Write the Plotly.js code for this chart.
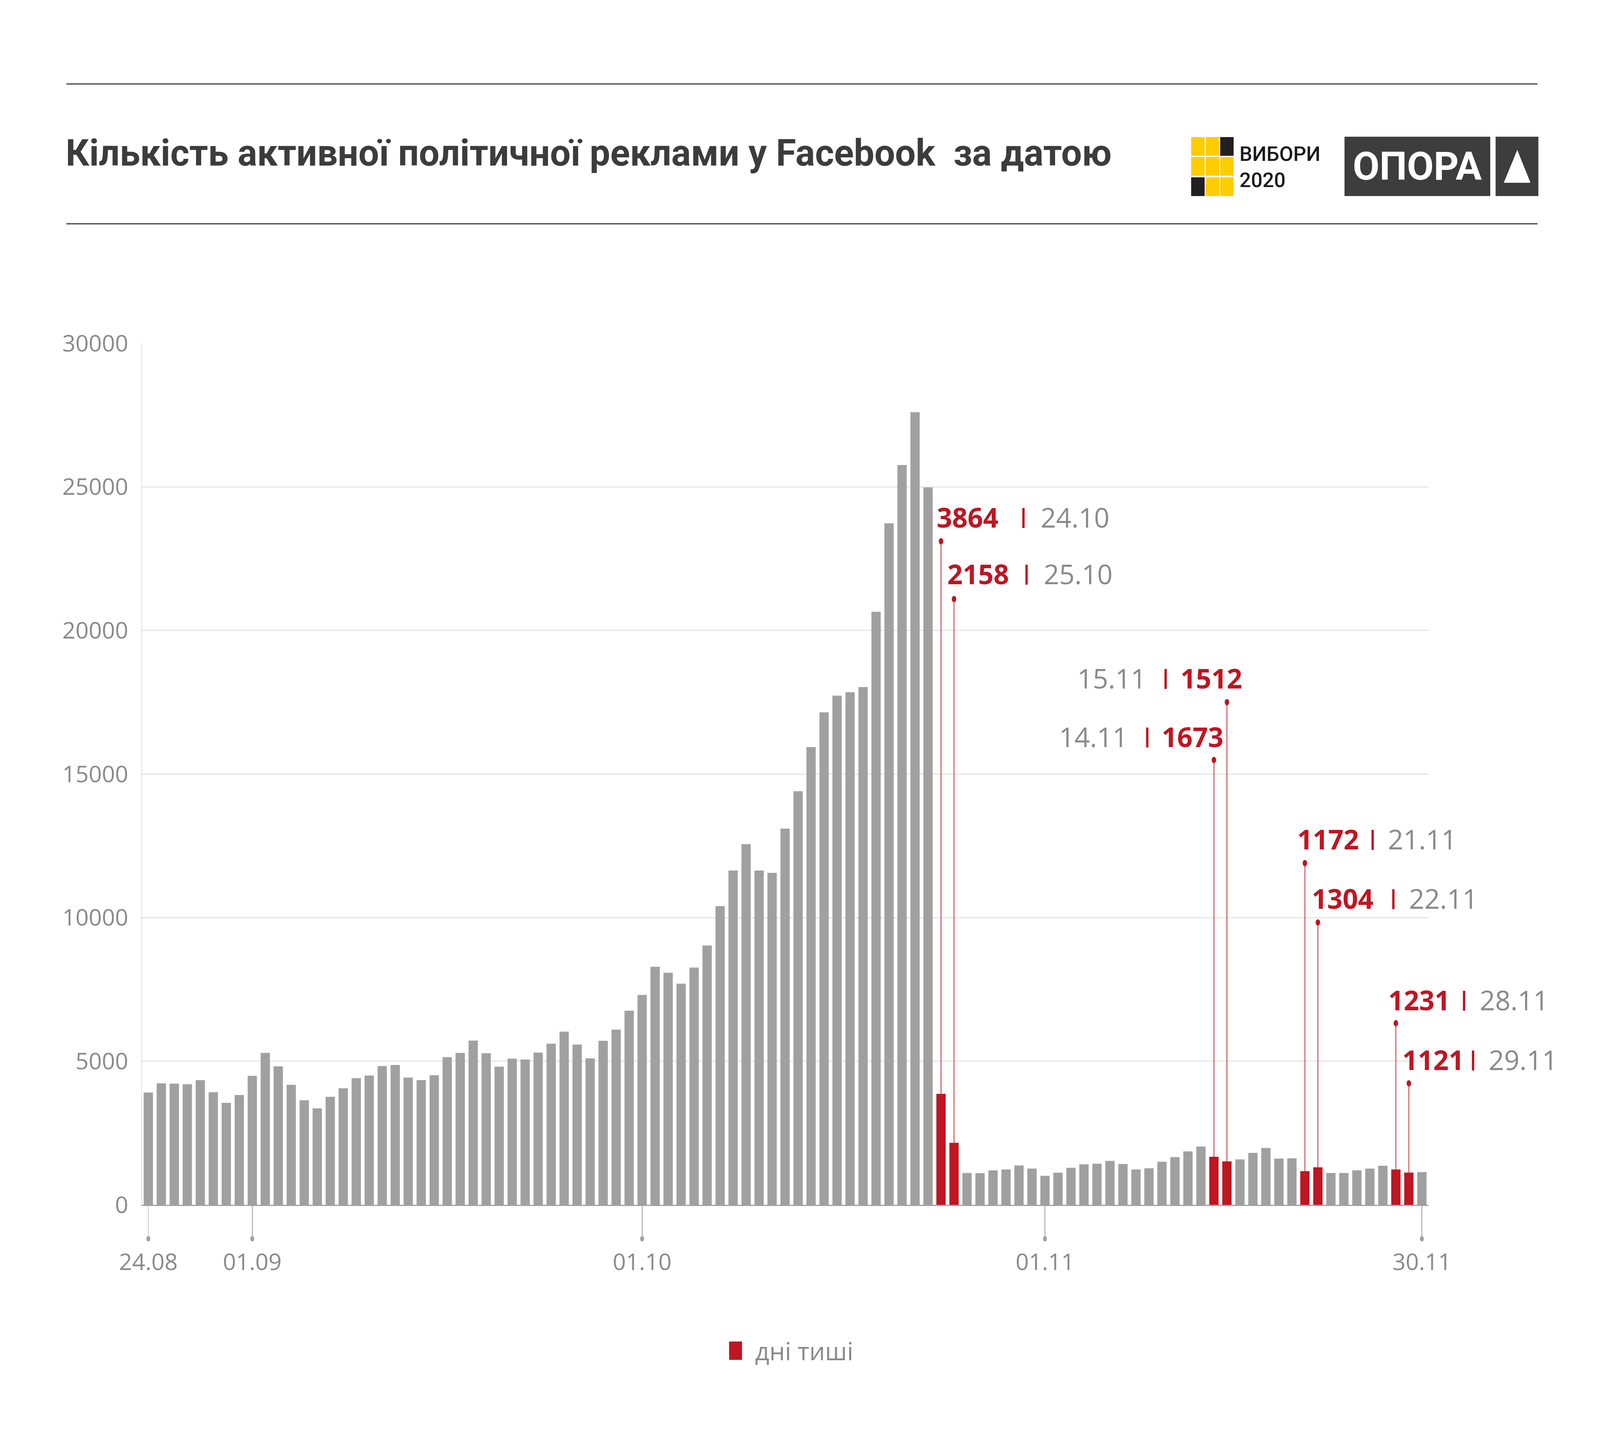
<!DOCTYPE html>
<html>
<head>
<meta charset="utf-8">
<script src="https://cdn.plot.ly/plotly-3.0.1.min.js"></script>
<style>
  html, body { margin: 0; padding: 0; background: #fff; overflow: hidden; }
</style>
</head>
<body>
<div id="chart"></div>
<script>
// dates (dd.mm), 24 Aug - 30 Nov 2020
var dates = [
  "24.08","25.08","26.08","27.08","28.08","29.08","30.08","31.08",
  "01.09","02.09","03.09","04.09","05.09","06.09","07.09","08.09","09.09","10.09",
  "11.09","12.09","13.09","14.09","15.09","16.09","17.09","18.09","19.09","20.09",
  "21.09","22.09","23.09","24.09","25.09","26.09","27.09","28.09","29.09","30.09",
  "01.10","02.10","03.10","04.10","05.10","06.10","07.10","08.10","09.10","10.10",
  "11.10","12.10","13.10","14.10","15.10","16.10","17.10","18.10","19.10","20.10",
  "21.10","22.10","23.10","24.10","25.10","26.10","27.10","28.10","29.10","30.10","31.10",
  "01.11","02.11","03.11","04.11","05.11","06.11","07.11","08.11","09.11","10.11",
  "11.11","12.11","13.11","14.11","15.11","16.11","17.11","18.11","19.11","20.11",
  "21.11","22.11","23.11","24.11","25.11","26.11","27.11","28.11","29.11","30.11"
];

// number of active political ads per day
var adCounts = [
  3910, 4230, 4220, 4200, 4340, 3920, 3550, 3820,
  4490, 5290, 4820, 4180, 3640, 3360, 3760, 4060, 4410, 4500,
  4830, 4870, 4430, 4340, 4510, 5140, 5290, 5720, 5280, 4810,
  5090, 5060, 5300, 5610, 6030, 5580, 5100, 5710, 6100, 6760,
  7310, 8290, 8080, 7700, 8260, 9030, 10400, 11640, 12560, 11640,
  11560, 13100, 14400, 15940, 17150, 17730, 17850, 18030, 20650, 23730,
  25760, 27600, 24980, 3864, 2158, 1110, 1100, 1200, 1230, 1370, 1260,
  1010, 1120, 1290, 1410, 1430, 1530, 1420, 1230, 1270, 1500,
  1660, 1860, 2030, 1673, 1512, 1580, 1810, 1980, 1610, 1620,
  1172, 1304, 1110, 1110, 1200, 1260, 1360, 1231, 1121, 1140
];

// "days of silence"
var silenceDays = ["24.10","25.10","14.11","15.11","21.11","22.11","28.11","29.11"];
var xTicks = ["24.08","01.09","01.10","01.11","30.11"];
var yTicks = [0, 5000, 10000, 15000, 20000, 25000, 30000];

// layout is worked out on a 5686 x 3677 grid, then fitted to the window
var REF_W = 5686, REF_H = 3677;
var W = document.documentElement.clientWidth || window.innerWidth;
var H = document.documentElement.clientHeight || window.innerHeight;
var sx = W / REF_W, sy = H / REF_H;
function SX(v) { return v * sx; }
function SY(v) { return v * sy; }

var GRAY = "#a0a0a0", RED = "#be1622", TXT = "#8a8a8a", DARK = "#3c3c3c";

// plot box on the reference grid
var plotL = 504, plotR = 5076, plotT = 879, plotB = 3085;
function px(x) { return x / REF_W; }
function py(y) { return 1 - y / REF_H; }
function yVal(y) { return (plotB - y) / (plotB - plotT) * 30000; }

var grayY = [], redY = [];
for (var i = 0; i < dates.length; i++) {
  var quiet = silenceDays.indexOf(dates[i]) >= 0;
  grayY.push(quiet ? null : adCounts[i]);
  redY.push(quiet ? adCounts[i] : null);
}

// callout label placement: number, separator, date (right edge when flip), baseline, dot
var callouts = [
  {d: "24.10", num: 3326, sep: 3620, date: 3696, base: 1361, dot: 1386},
  {d: "25.10", num: 3364, sep: 3632, date: 3707, base: 1506, dot: 1534},
  {d: "15.11", num: 4192, sep: 4126, date: 4076, base: 1773, dot: 1798, flip: true},
  {d: "14.11", num: 4126, sep: 4060, date: 4010, base: 1923, dot: 1946, flip: true},
  {d: "21.11", num: 4608, sep: 4862, date: 4930, base: 2185, dot: 2210},
  {d: "22.11", num: 4659, sep: 4935, date: 5004, base: 2337, dot: 2362},
  {d: "28.11", num: 4931, sep: 5186, date: 5255, base: 2597, dot: 2620},
  {d: "29.11", num: 4981, sep: 5218, date: 5288, base: 2750, dot: 2774}
];

var lineX = [], lineY = [];
var annotations = [];
var shapes = [];
var CAP = 37;
function label(text, x, yMid, size, color, weight, anchor) {
  return {
    text: text, xref: "paper", yref: "paper", x: px(x), y: py(yMid),
    xanchor: anchor || "left", yanchor: "middle", showarrow: false,
    font: {family: "Open Sans", size: SX(size), color: color, weight: weight || 400}
  };
}
function dot(xIndex, yPaper, r, color) {
  return {type: "circle", xref: "x", yref: "paper",
    xsizemode: "pixel", ysizemode: "pixel", xanchor: xIndex, yanchor: yPaper,
    x0: -SX(r), x1: SX(r), y0: -SY(r), y1: SY(r), fillcolor: color, line: {width: 0}};
}
callouts.forEach(function (c) {
  var idx = dates.indexOf(c.d);
  var v = adCounts[idx];
  lineX.push(c.d, c.d, null);
  lineY.push(v, yVal(c.dot), null);
  shapes.push(dot(idx, py(c.dot), 8, RED));
  annotations.push(label(String(v), c.num, c.base - CAP, 96, RED, 700));
  annotations.push(label("I", c.sep, c.base - CAP, 100, RED, 400));
  annotations.push(label(c.d, c.date, c.base - CAP, 96, TXT, 400, c.flip ? "right" : "left"));
});

// title
annotations.push({
  text: "<b>Кількість активної політичної реклами у Facebook  за датою</b>",
  xref: "paper", yref: "paper", x: px(230), y: py(392),
  xanchor: "left", yanchor: "middle", showarrow: false,
  font: {family: "Roboto", size: SX(130), color: DARK}
});
// legend text
annotations.push(label("дні тиші", 2680, 3458, 88, TXT, 400));
// logo texts
annotations.push({
  text: "ВИБОРИ<br>2020", xref: "paper", yref: "paper", x: px(4402), y: py(428),
  xanchor: "left", yanchor: "middle", align: "left", showarrow: false,
  font: {family: "Roboto", size: SX(72), color: "#1a1a1a", weight: 500}
});
annotations.push({
  text: "<b>ОПОРА</b>", xref: "paper", yref: "paper", x: px(5037), y: py(426),
  xanchor: "center", yanchor: "middle", showarrow: false,
  font: {family: "Roboto", size: SX(138), color: "#ffffff"}
});

shapes.push(
  {type: "line", xref: "paper", yref: "paper", x0: px(236), x1: px(5464), y0: py(215), y1: py(215),
   line: {color: DARK, width: SY(3)}},
  {type: "line", xref: "paper", yref: "paper", x0: px(236), x1: px(5464), y0: py(573), y1: py(573),
   line: {color: DARK, width: SY(3)}},
  // legend swatch
  {type: "rect", xref: "paper", yref: "paper", x0: px(2591), x1: px(2637), y0: py(3482), y1: py(3435),
   fillcolor: RED, line: {width: 0}},
  // OPORA boxes
  {type: "rect", xref: "paper", yref: "paper", x0: px(4778), x1: px(5296), y0: py(502), y1: py(350),
   fillcolor: "#3d3d3d", line: {width: 0}},
  {type: "rect", xref: "paper", yref: "paper", x0: px(5315), x1: px(5467), y0: py(502), y1: py(350),
   fillcolor: "#3d3d3d", line: {width: 0}},
  {type: "path", xref: "paper", yref: "paper",
   path: "M" + px(5392) + "," + py(384) + " L" + px(5439) + "," + py(468) + " L" + px(5344) + "," + py(468) + " Z",
   fillcolor: "#ffffff", line: {width: 0}}
);

// dots at the ends of the x ticks
xTicks.forEach(function (t) {
  shapes.push(dot(dates.indexOf(t), py(3172), 7, GRAY));
});

// ВИБОРИ 2020 grid: 3x3, dark squares at top-right and bottom-left
var gridX = [4233, 4285, 4336], gridY = [351, 402, 454];
for (var r = 0; r < 3; r++) {
  for (var c = 0; c < 3; c++) {
    var dark = (r === 0 && c === 2) || (r === 2 && c === 0);
    shapes.push({type: "rect", xref: "paper", yref: "paper",
      x0: px(gridX[c]), x1: px(gridX[c] + 48), y0: py(gridY[r] + 48), y1: py(gridY[r]),
      fillcolor: dark ? "#231f20" : "#fecd00", line: {width: 0}});
  }
}

var traces = [
  {type: "bar", x: dates, y: grayY, marker: {color: GRAY}, name: "", showlegend: false},
  {type: "bar", x: dates, y: redY, marker: {color: RED}, name: "дні тиші", showlegend: false},
  {type: "scatter", mode: "lines", x: lineX, y: lineY, line: {color: RED, width: SX(2.5)},
   showlegend: false, hoverinfo: "skip"}
];

var layout = {
  width: W,
  height: H,
  margin: {l: 0, r: 0, t: 0, b: 0, pad: 0},
  paper_bgcolor: "#ffffff",
  plot_bgcolor: "#ffffff",
  barmode: "overlay",
  bargap: 0.285,
  showlegend: false,
  xaxis: {
    type: "category",
    categoryorder: "array",
    categoryarray: dates,
    domain: [px(plotL), px(plotR)],
    range: [-0.5, 98.5],
    tickmode: "array",
    tickvals: xTicks,
    ticktext: xTicks,
    ticks: "outside",
    ticklen: SY(87),
    tickwidth: SX(2),
    tickcolor: GRAY,
    ticklabelstandoff: SY(6),
    showline: true,
    linecolor: GRAY,
    linewidth: SY(3),
    showgrid: false,
    zeroline: false,
    tickfont: {family: "Open Sans", size: SX(82), color: TXT},
    fixedrange: true
  },
  yaxis: {
    domain: [py(plotB), py(plotT)],
    range: [0, 30000],
    tickmode: "array",
    tickvals: yTicks,
    tickformat: "d",
    // invisible ticks only push the labels away from the axis line
    ticks: "outside",
    ticklen: SX(30),
    tickcolor: "rgba(0,0,0,0)",
    showline: true,
    linecolor: "#cccccc",
    linewidth: SX(2),
    showgrid: true,
    gridcolor: "#dcdcdc",
    gridwidth: SY(2),
    zeroline: false,
    tickfont: {family: "Open Sans", size: SX(82), color: TXT},
    fixedrange: true
  },
  shapes: shapes,
  annotations: annotations
};

Plotly.newPlot("chart", traces, layout, {staticPlot: true, displayModeBar: false});
</script>
</body>
</html>
